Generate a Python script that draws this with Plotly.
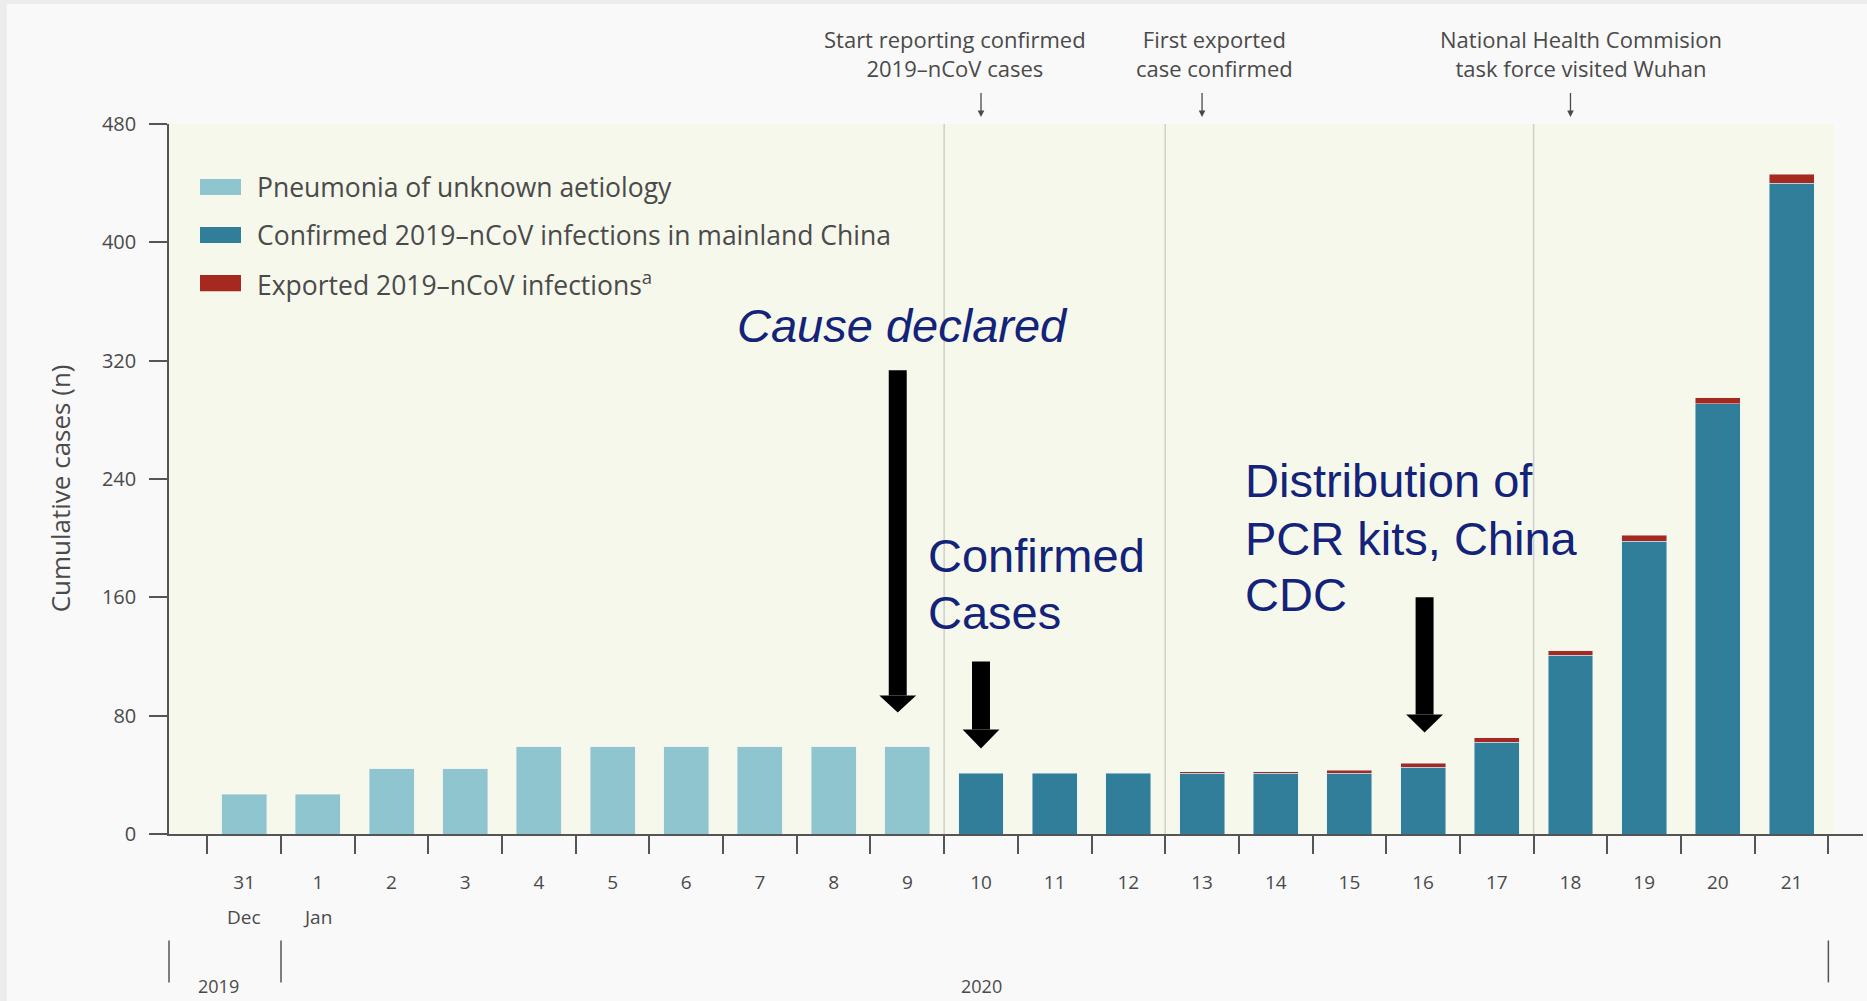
import plotly.graph_objects as go

# ---------------- data ----------------
days = ["31", "1", "2", "3", "4", "5", "6", "7", "8", "9", "10", "11",
        "12", "13", "14", "15", "16", "17", "18", "19", "20", "21"]
month_labels = {0: "Dec", 1: "Jan"}
pneumonia = [27, 27, 44, 44, 59, 59, 59, 59, 59, 59] + [None] * 12
confirmed = [None] * 10 + [41, 41, 41, 41, 41, 41, 45, 62, 121, 198, 291, 440]
exported = [None] * 13 + [1, 1, 2, 3, 3, 3, 4, 4, 6]
y_ticks = [0, 80, 160, 240, 320, 400, 480]
series_names = ["Pneumonia of unknown aetiology",
                "Confirmed 2019–nCoV infections in mainland China",
                "Exported 2019–nCoV infections<sup>a</sup>"]
event_lines = [9.5, 12.5, 17.5]
top_events = [  # (arrow x, text x, text)
    (10, 9.65, "Start reporting confirmed<br>2019–nCoV cases"),
    (13, 13.17, "First exported<br>case confirmed"),
    (18, 18.14, "National Health Commision<br>task force visited Wuhan"),
]

x = list(range(len(days)))

C_LIGHT = "#8fc5cf"
C_TEAL = "#317e9b"
C_RED = "#a5291e"
C_NAVY = "#13237a"
TXT = "#4a4a4a"
AX = "#555555"
FONT = "Open Sans, Liberation Sans, sans-serif"

fig = go.Figure()
fig.add_bar(x=x, y=pneumonia, marker_color=C_LIGHT, width=0.61, name=series_names[0])
fig.add_bar(x=x, y=confirmed, marker_color=C_TEAL, width=0.61, name=series_names[1])
fig.add_bar(x=x, y=exported, marker_color=C_RED, width=0.61, name=series_names[2])

shapes = []
# plot background panel
shapes.append(dict(type="rect", xref="x", yref="y", x0=-1.02, x1=21.57, y0=0, y1=480,
                   fillcolor="#f6f8ec", line_width=0, layer="below"))
# page edges
shapes.append(dict(type="rect", xref="paper", yref="paper", x0=-0.0998, x1=-0.0958,
                   y0=-0.236, y1=1.175, fillcolor="#ececec", line_width=0, layer="below"))
shapes.append(dict(type="rect", xref="paper", yref="paper", x0=-0.0998, x1=1.003,
                   y0=1.169, y1=1.175, fillcolor="#ececec", line_width=0, layer="below"))
# event separators
for xv in event_lines:
    shapes.append(dict(type="line", xref="x", yref="y", x0=xv, x1=xv, y0=0, y1=480,
                       line=dict(color="#cfcfcb", width=1.5), layer="below"))
# year separators
for xr, xv in [("paper", 0), ("x", 0.5), ("x", 21.5)]:
    shapes.append(dict(type="line", xref=xr, yref="paper", x0=xv, x1=xv, y0=-0.209, y1=-0.150,
                       line=dict(color=AX, width=1.5)))

# small event arrows above the plot
for xa, _, _ in top_events:
    shapes.append(dict(type="line", xref="x", yref="paper", x0=xa, x1=xa, y0=1.0437, y1=1.016,
                       line=dict(color=TXT, width=1.3)))
    shapes.append(dict(type="path", xref="x", yref="paper",
                       path=f"M {xa-0.045},1.019 L {xa+0.045},1.019 L {xa},1.0099 Z",
                       fillcolor=TXT, line_width=0))

# thick black arrows (x centre, shaft top, head base, tip)
for cx, top, base, tip in [(8.87, 313.6, 93.7, 82.2), (10.0, 116.7, 70.7, 57.8), (16.02, 160, 80.8, 68.7)]:
    hw = 0.122
    hh = 0.25
    shapes.append(dict(type="rect", xref="x", yref="y", x0=cx - hw, x1=cx + hw, y0=base, y1=top,
                       fillcolor="black", line_width=0))
    shapes.append(dict(type="path", xref="x", yref="y",
                       path=f"M {cx-hh},{base} L {cx+hh},{base} L {cx},{tip} Z",
                       fillcolor="black", line_width=0))

# legend swatches
leg_y = [0.9112, 0.8436, 0.7759]
for yy, col in zip(leg_y, [C_LIGHT, C_TEAL, C_RED]):
    shapes.append(dict(type="rect", xref="paper", yref="paper", x0=0.0183, x1=0.0425,
                       y0=yy - 0.0113, y1=yy + 0.0113, fillcolor=col, line_width=0))

ann = []
for yy, name in zip(leg_y, series_names):
    ann.append(dict(xref="paper", yref="paper", x=0.0508, y=yy, text=name, showarrow=False,
                    xanchor="left", yanchor="middle", font=dict(family=FONT, size=26.5, color=TXT)))

for xa, xt, txt in top_events:
    ann.append(dict(xref="x", yref="paper", x=xt, y=1.0987, text=txt, showarrow=False,
                    xanchor="center", yanchor="middle", font=dict(family=FONT, size=22, color=TXT)))

for i, m in month_labels.items():
    ann.append(dict(xref="x", yref="paper", x=i, y=-0.1165, text=m, showarrow=False,
                    xanchor="center", yanchor="middle", font=dict(family=FONT, size=19, color=TXT)))

ann.append(dict(xref="x", yref="paper", x=-0.35, y=-0.214, text="2019", showarrow=False,
                xanchor="center", yanchor="middle", font=dict(family=FONT, size=18, color=TXT)))
ann.append(dict(xref="x", yref="paper", x=10, y=-0.214, text="2020", showarrow=False,
                xanchor="center", yanchor="middle", font=dict(family=FONT, size=18, color=TXT)))

ann.append(dict(xref="paper", yref="paper", x=-0.0643, y=0.487, text="Cumulative cases (n)",
                textangle=-90, showarrow=False, xanchor="center", yanchor="middle",
                font=dict(family=FONT, size=26, color=TXT)))

# navy overlay annotations
NF = dict(family="Liberation Sans, Arial, sans-serif", size=47, color=C_NAVY)
ann.append(dict(xref="x", yref="y", x=6.66, y=344, text="<i>Cause declared</i>", showarrow=False,
                xanchor="left", yanchor="middle", font=NF))
for yy, t in [(188.4, "Confirmed"), (149.9, "Cases")]:
    ann.append(dict(xref="x", yref="y", x=9.25, y=yy, text=t, showarrow=False,
                    xanchor="left", yanchor="middle", font=NF))
for yy, t in [(239, "Distribution of"), (200, "PCR kits, China"), (162, "CDC")]:
    ann.append(dict(xref="x", yref="y", x=13.56, y=yy, text=t, showarrow=False,
                    xanchor="left", yanchor="middle", font=NF))

fig.update_layout(
    width=1867, height=1001,
    margin=dict(l=169, r=4, t=124, b=167),
    paper_bgcolor="#f9f9f9", plot_bgcolor="#f9f9f9",
    barmode="stack", showlegend=False,
    shapes=shapes, annotations=ann,
    font=dict(family=FONT, color=TXT),
)
fig.update_xaxes(
    range=[-1.02, 21.97], tickmode="array", tickvals=x, ticktext=days,
    ticks="outside", ticklen=0, tickcolor="rgba(0,0,0,0)", ticklabelstandoff=30,
    tickfont=dict(family=FONT, size=19, color=TXT),
    showline=True, linecolor=AX, linewidth=1.5, showgrid=False, zeroline=False,
    minor=dict(tickmode="array", tickvals=[v - 0.5 for v in x] + [x[-1] + 0.5],
               ticks="outside", ticklen=18, tickcolor=AX, tickwidth=1.5, showgrid=False),
)
fig.update_yaxes(
    range=[0, 480], tickmode="array", tickvals=y_ticks,
    ticks="outside", ticklen=18, tickcolor=AX, tickwidth=1.5, ticklabelstandoff=9,
    tickfont=dict(family=FONT, size=20, color=TXT),
    showline=True, linecolor=AX, linewidth=1.5, showgrid=False, zeroline=False,
)

fig.write_html("out.html", config={"displayModeBar": False},
               post_script="document.body.style.margin='0';")
